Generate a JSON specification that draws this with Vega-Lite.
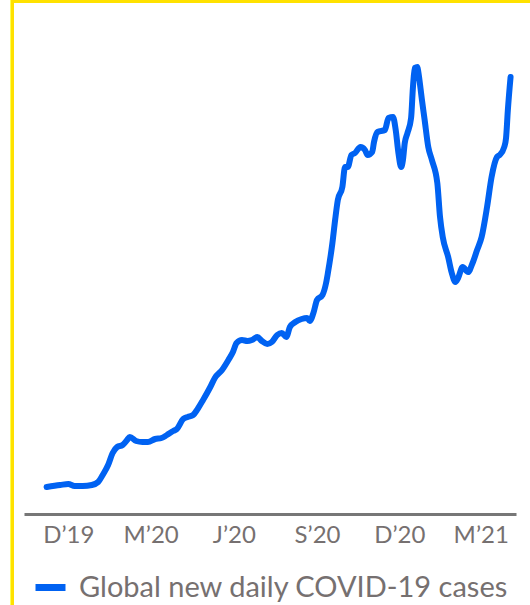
{
  "$schema": "https://vega.github.io/schema/vega-lite/v6.json",
  "width": 492,
  "height": 500,
  "autosize": {"type": "none"},
  "padding": {"left": 24, "top": 14, "right": 14, "bottom": 91},
  "background": "white",
  "config": {
    "view": {"stroke": null},
    "font": "Lato",
    "legend": {"layout": {"bottom": {"anchor": "middle"}}}
  },
  "resolve": {"axis": {"x": "independent", "y": "independent"}},
  "data": {
    "values": [
      {"date": "2019-11-07", "cases": 27},
      {"date": "2019-11-22", "cases": 29},
      {"date": "2019-12-01", "cases": 30},
      {"date": "2019-12-08", "cases": 28},
      {"date": "2019-12-17", "cases": 28},
      {"date": "2019-12-27", "cases": 29},
      {"date": "2020-01-03", "cases": 32},
      {"date": "2020-01-08", "cases": 39},
      {"date": "2020-01-14", "cases": 49},
      {"date": "2020-01-19", "cases": 61},
      {"date": "2020-01-24", "cases": 67},
      {"date": "2020-01-30", "cases": 69},
      {"date": "2020-02-04", "cases": 74},
      {"date": "2020-02-07", "cases": 77},
      {"date": "2020-02-14", "cases": 73},
      {"date": "2020-02-21", "cases": 72},
      {"date": "2020-02-27", "cases": 72},
      {"date": "2020-03-06", "cases": 75},
      {"date": "2020-03-13", "cases": 76},
      {"date": "2020-03-19", "cases": 79},
      {"date": "2020-03-26", "cases": 83},
      {"date": "2020-03-30", "cases": 85},
      {"date": "2020-04-06", "cases": 95},
      {"date": "2020-04-11", "cases": 97},
      {"date": "2020-04-17", "cases": 99},
      {"date": "2020-04-22", "cases": 105},
      {"date": "2020-04-28", "cases": 114},
      {"date": "2020-05-06", "cases": 127},
      {"date": "2020-05-11", "cases": 136},
      {"date": "2020-05-19", "cases": 144},
      {"date": "2020-05-26", "cases": 154},
      {"date": "2020-05-31", "cases": 162},
      {"date": "2020-06-04", "cases": 171},
      {"date": "2020-06-10", "cases": 174},
      {"date": "2020-06-16", "cases": 173},
      {"date": "2020-06-21", "cases": 174},
      {"date": "2020-06-27", "cases": 177},
      {"date": "2020-07-02", "cases": 173},
      {"date": "2020-07-08", "cases": 170},
      {"date": "2020-07-13", "cases": 172},
      {"date": "2020-07-19", "cases": 179},
      {"date": "2020-07-24", "cases": 181},
      {"date": "2020-07-29", "cases": 177},
      {"date": "2020-08-02", "cases": 187},
      {"date": "2020-08-08", "cases": 192},
      {"date": "2020-08-15", "cases": 195},
      {"date": "2020-08-21", "cases": 196},
      {"date": "2020-08-24", "cases": 193},
      {"date": "2020-08-28", "cases": 201},
      {"date": "2020-09-01", "cases": 214},
      {"date": "2020-09-07", "cases": 219},
      {"date": "2020-09-11", "cases": 231},
      {"date": "2020-09-13", "cases": 241},
      {"date": "2020-09-18", "cases": 271},
      {"date": "2020-09-21", "cases": 294},
      {"date": "2020-09-24", "cases": 314},
      {"date": "2020-09-29", "cases": 327},
      {"date": "2020-10-02", "cases": 347},
      {"date": "2020-10-05", "cases": 347},
      {"date": "2020-10-09", "cases": 359},
      {"date": "2020-10-13", "cases": 361},
      {"date": "2020-10-19", "cases": 367},
      {"date": "2020-10-24", "cases": 364},
      {"date": "2020-10-27", "cases": 359},
      {"date": "2020-11-01", "cases": 362},
      {"date": "2020-11-03", "cases": 372},
      {"date": "2020-11-07", "cases": 382},
      {"date": "2020-11-15", "cases": 384},
      {"date": "2020-11-19", "cases": 396},
      {"date": "2020-11-24", "cases": 397},
      {"date": "2020-11-27", "cases": 384},
      {"date": "2020-11-30", "cases": 361},
      {"date": "2020-12-03", "cases": 347},
      {"date": "2020-12-05", "cases": 354},
      {"date": "2020-12-07", "cases": 371},
      {"date": "2020-12-10", "cases": 381},
      {"date": "2020-12-14", "cases": 396},
      {"date": "2020-12-16", "cases": 426},
      {"date": "2020-12-18", "cases": 446},
      {"date": "2020-12-21", "cases": 447},
      {"date": "2020-12-22", "cases": 442},
      {"date": "2020-12-26", "cases": 414},
      {"date": "2020-12-29", "cases": 394},
      {"date": "2021-01-02", "cases": 367},
      {"date": "2021-01-06", "cases": 354},
      {"date": "2021-01-12", "cases": 331},
      {"date": "2021-01-15", "cases": 297},
      {"date": "2021-01-18", "cases": 277},
      {"date": "2021-01-24", "cases": 257},
      {"date": "2021-01-28", "cases": 241},
      {"date": "2021-02-01", "cases": 232},
      {"date": "2021-02-04", "cases": 236},
      {"date": "2021-02-09", "cases": 247},
      {"date": "2021-02-15", "cases": 242},
      {"date": "2021-02-20", "cases": 251},
      {"date": "2021-02-25", "cases": 264},
      {"date": "2021-03-02", "cases": 277},
      {"date": "2021-03-08", "cases": 307},
      {"date": "2021-03-13", "cases": 337},
      {"date": "2021-03-19", "cases": 357},
      {"date": "2021-03-22", "cases": 359},
      {"date": "2021-03-27", "cases": 367},
      {"date": "2021-03-29", "cases": 376},
      {"date": "2021-03-31", "cases": 404},
      {"date": "2021-04-03", "cases": 437}
    ]
  },
  "layer": [
    {
      "mark": {"type": "line", "strokeWidth": 6, "strokeCap": "round", "strokeJoin": "round", "interpolate": "monotone"},
      "encoding": {
        "x": {
          "field": "date",
          "type": "temporal",
          "scale": {
            "type": "utc",
            "domain": [1570924800000, 1617926400000]
          },
          "axis": {
            "title": null,
            "values": [1575158400000, 1583020800000, 1590969600000, 1598918400000, 1606780800000, 1614556800000],
            "labelExpr": "substring(utcFormat(datum.value, '%b'), 0, 1) + '\u2019' + utcFormat(datum.value, '%y')",
            "ticks": false,
            "grid": false,
            "domainColor": "#777777",
            "domainWidth": 3,
            "labelColor": "#767070",
            "labelFontSize": 24,
            "labelPadding": 9,
            "labelFlush": false,
            "labelOverlap": false
          }
        },
        "y": {
          "field": "cases",
          "type": "quantitative",
          "scale": {"domain": [0, 500]},
          "axis": null
        },
        "color": {
          "datum": "Global new daily COVID-19 cases",
          "type": "nominal",
          "scale": {"range": ["#0062F2"]},
          "legend": {
            "title": null,
            "orient": "bottom",
            "symbolType": "stroke",
            "symbolSize": 900,
            "symbolStrokeWidth": 7,
            "labelFontSize": 29,
            "labelColor": "#767070",
            "labelOffset": 10,
            "labelLimit": 600,
            "offset": 22
          }
        }
      }
    },
    {
      "mark": {"type": "rule", "color": "#FFE100", "strokeWidth": 2.5},
      "encoding": {
        "x": {"datum": 1569801600000, "type": "temporal", "axis": null},
        "y": {"datum": 514, "type": "quantitative", "axis": null},
        "y2": {"datum": -100}
      }
    },
    {
      "mark": {"type": "rule", "color": "#FFE100", "strokeWidth": 3},
      "encoding": {
        "x": {"datum": 1569715200000, "type": "temporal", "axis": null},
        "x2": {"datum": 1625011200000},
        "y": {"datum": 513, "type": "quantitative", "axis": null}
      }
    }
  ]
}
